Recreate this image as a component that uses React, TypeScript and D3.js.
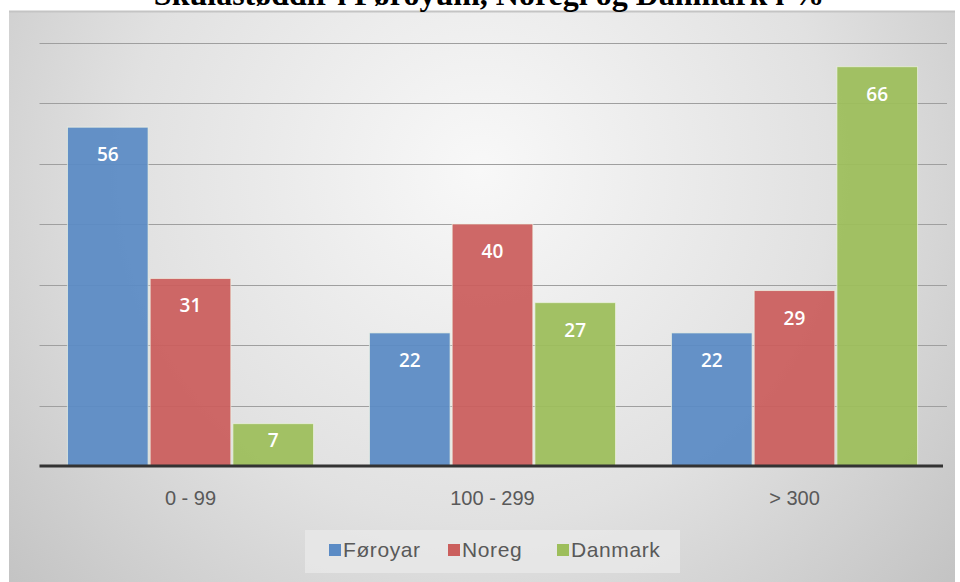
import React from "react";
import * as d3 from "d3";

const title = "Skúlastøddir í Føroyum, Noregi og Danmark í %";
const categories = ["0 - 99", "100 - 299", "> 300"];
const seriesNames = ["Føroyar", "Noreg", "Danmark"];
const foroyar = [56, 22, 22];
const noreg = [31, 40, 29];
const danmark = [7, 27, 66];
const gridTicks = [0, 10, 20, 30, 40, 50, 60, 70];
const colors = ["#5b8bc5", "#cb5f5d", "#9dbe5b"];

const W = 960;
const H = 582;
const plot = { left: 39.5, right: 945.5, top: 42.5, bottom: 466 };
const legendX = [329, 448, 557];

export default function App() {
  const values = [foroyar, noreg, danmark];
  const x0 = d3
    .scaleBand<string>()
    .domain(categories)
    .range([plot.left, plot.right])
    .paddingInner(0.185)
    .paddingOuter(0.0925);
  const x1 = d3
    .scaleBand<string>()
    .domain(seriesNames)
    .range([0, x0.bandwidth()])
    .paddingInner(0.025);
  const y = d3.scaleLinear().domain([0, 70]).range([plot.bottom, plot.top]);

  return (
    <svg
      width={W}
      height={H}
      style={{ position: "absolute", left: 0, top: 0, display: "block" }}
    >
      <defs>
        <radialGradient
          id="bg"
          gradientUnits="userSpaceOnUse"
          cx={480}
          cy={170}
          r={640}
        >
          <stop offset="0" stopColor="#f8f8f8" />
          <stop offset="0.55" stopColor="#e1e1e1" />
          <stop offset="1" stopColor="#c2c2c2" />
        </radialGradient>
      </defs>
      <rect x={0} y={0} width={W} height={H} fill="#ffffff" />
      <rect x={9} y={11} width={946} height={580} fill="url(#bg)" />
      <line x1={9} x2={955} y1={11.5} y2={11.5} stroke="#c4c4c4" strokeWidth={2} />
      <text
        x={489}
        y={5}
        textAnchor="middle"
        fontFamily="'Liberation Serif', 'Times New Roman', serif"
        fontWeight="bold"
        fontSize={32}
        fill="#000"
      >
        {title}
      </text>
      {gridTicks
        .filter((t) => t > 0)
        .map((t) => (
          <line
            key={t}
            x1={plot.left}
            x2={947}
            y1={Math.round(y(t)) + 0.5}
            y2={Math.round(y(t)) + 0.5}
            stroke="#9f9f9f"
            strokeWidth={1}
          />
        ))}
      {categories.map((c, ci) => (
        <g key={c} transform={`translate(${x0(c)},0)`}>
          {seriesNames.map((s, si) => {
            const v = values[si][ci];
            const top = y(v);
            const h = plot.bottom - top;
            const bx = x1(s) as number;
            const bw = x1.bandwidth();
            const labelY = top + Math.min(34, h / 2 + 2);
            return (
              <g key={s}>
                <rect
                  x={bx}
                  y={top}
                  width={bw}
                  height={h}
                  fill={colors[si]}
                  fillOpacity={0.94}
                  stroke="rgba(240,245,230,0.7)"
                  strokeWidth={1}
                />
                <text
                  x={bx + bw / 2}
                  y={labelY}
                  textAnchor="middle"
                  fontFamily="'Open Sans', 'Liberation Sans', sans-serif"
                  fontWeight={600}
                  fontSize={19}
                  fill="#ffffff"
                >
                  {v}
                </text>
              </g>
            );
          })}
          <text
            x={x0.bandwidth() / 2}
            y={505}
            textAnchor="middle"
            fontFamily="'Liberation Sans', Arial, sans-serif"
            fontSize={20}
            fill="#595959"
          >
            {c}
          </text>
        </g>
      ))}
      <line
        x1={plot.left}
        x2={943}
        y1={plot.bottom}
        y2={plot.bottom}
        stroke="#333333"
        strokeWidth={3}
      />
      <rect x={305} y={530} width={375} height={43} fill="#e8e8e8" fillOpacity={0.8} />
      {seriesNames.map((s, si) => (
        <g key={s} transform={`translate(${legendX[si]},0)`}>
          <rect x={0} y={544} width={12} height={12} fill={colors[si]} />
          <text
            x={14}
            y={557}
            fontFamily="'Liberation Sans', Arial, sans-serif"
            fontSize={21}
            letterSpacing={0.6}
            fill="#595959"
          >
            {s}
          </text>
        </g>
      ))}
    </svg>
  );
}
